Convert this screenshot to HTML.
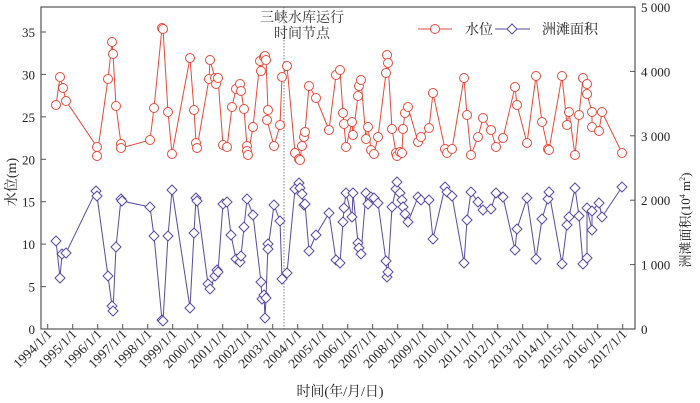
<!DOCTYPE html>
<html><head><meta charset="utf-8"><style>
body{margin:0;background:#fff}
svg{display:block;font-family:"Liberation Serif","Noto Serif CJK SC",serif}
</style></head><body>
<svg width="700" height="403" viewBox="0 0 700 403" xmlns="http://www.w3.org/2000/svg">
<rect x="41" y="7" width="594" height="322" fill="none" stroke="#555" stroke-width="1.2"/>
<line x1="284" y1="7" x2="284" y2="329" stroke="#555" stroke-width="0.8" stroke-dasharray="1.5,1.5"/>
<g id="ticks" stroke="#555" stroke-width="1"></g>
<g font-size="13" fill="#222" id="labs"></g>
<text x="302" y="22" font-size="14" text-anchor="middle" fill="#333">三峡水库运行</text>
<text x="302" y="38" font-size="14" text-anchor="middle" fill="#333">时间节点</text>
<text transform="translate(16,182) rotate(-90)" font-size="14" text-anchor="middle" fill="#222">水位(m)</text>
<text transform="translate(690,220) rotate(-90)" font-size="13" text-anchor="middle" fill="#222">洲滩面积(10<tspan font-size="8" dy="-5">4</tspan><tspan dy="5"> m</tspan><tspan font-size="8" dy="-5">2</tspan><tspan dy="5">)</tspan></text>
<text x="340" y="396" font-size="14" text-anchor="middle" fill="#222">时间(年/月/日)</text>
<g id="series"></g>
<line x1="418" y1="29" x2="452" y2="29" stroke="#e8493a"/><circle cx="435" cy="29" r="4.5" fill="#fff" stroke="#e8493a"/>
<text x="465" y="34" font-size="14" fill="#222">水位</text>
<line x1="495" y1="29" x2="530" y2="29" stroke="#5b4a9e"/><path d="M512 24 L517 29 L512 34 L507 29Z" fill="#fff" stroke="#5b4a9e"/>
<text x="542" y="34" font-size="14" fill="#222">洲滩面积</text>
</svg>
<script>
const NS="http://www.w3.org/2000/svg";
function el(p,t,a,txt){const e=document.createElementNS(NS,t);for(const k in a)e.setAttribute(k,a[k]);if(txt!==undefined)e.textContent=txt;document.getElementById(p).appendChild(e);return e;}
const L=[[0,329],[5,286.6],[10,244.1],[15,201.7],[20,159.3],[25,116.8],[30,74.4],[35,32]];
L.forEach(([v,y])=>{if(v>0)el("ticks","line",{x1:41,y1:y,x2:46,y2:y});el("labs","text",{x:35,y:y+5,"text-anchor":"end"},v);});
[0,1000,2000,3000,4000,5000].forEach((v,i)=>{const y=329-i*64.4;if(i>0&&i<5)el("ticks","line",{x1:630,y1:y,x2:635,y2:y});el("labs","text",{x:641,y:y+5},v==0?"0":(v/1000)+" 000");});
for(let i=0;i<24;i++){const x=47.7+i*25;el("ticks","line",{x1:x,y1:329,x2:x,y2:324});el("labs","text",{transform:`translate(${x+5},335) rotate(-45)`,"text-anchor":"end","font-size":"13.5"},(1994+i)+"/1/1");}
const R=[[56,105],[60,77],[63,88],[66,101],[97,147],[97,156],[108,79],[112,42],[113,54],[116,106],[121,144],[121,148],[150,140],[154,108],[162,28],[163,29],[168,112],[172,154],[190,58],[194,110],[196,143],[197,148],[209,79],[210,60],[215,78],[216,84],[218,78],[223,145],[227,147],[232,107],[236,89],[240,84],[241,91],[244,109],[247,146],[247,151],[248,155],[253,127],[260,61],[261,71],[264,57],[265,56],[266,60],[268,110],[267,120],[274,146],[280,125],[282,77],[287,66],[295,153],[299,159],[300,160],[302,146],[304,137],[305,132],[309,86],[316,98],[329,130],[336,75],[340,70],[343,113],[344,124],[346,147],[352,122],[353,135],[358,96],[359,86],[361,80],[366,139],[368,127],[371,150],[374,154],[378,137],[386,73],[387,55],[388,63],[392,129],[396,153],[397,156],[400,152],[402,153],[403,129],[405,113],[408,107],[418,142],[421,137],[429,128],[433,93],[445,149],[447,153],[452,149],[464,78],[467,115],[471,155],[478,137],[483,118],[491,130],[496,147],[503,138],[515,87],[517,105],[527,143],[536,76],[542,122],[548,149],[549,150],[562,76],[567,125],[569,112],[575,155],[579,115],[583,78],[587,84],[587,94],[592,112],[592,127],[599,131],[602,112],[622,153]];
const B=[[56,241],[60,278],[62,254],[66,253],[96,191],[97,196],[108,276],[112,306],[113,311],[116,247],[121,199],[122,201],[150,207],[154,236],[162,320],[163,321],[168,236],[172,190],[190,308],[194,233],[196,198],[197,201],[208,284],[210,289],[215,276],[217,270],[218,272],[223,204],[227,202],[231,235],[236,259],[240,262],[241,256],[244,227],[247,199],[253,215],[261,282],[262,299],[264,295],[265,318],[266,298],[268,244],[268,249],[274,205],[280,221],[282,279],[287,273],[295,189],[299,183],[300,188],[302,194],[304,205],[305,204],[309,251],[316,235],[329,213],[336,260],[340,263],[343,222],[344,208],[346,193],[352,217],[353,193],[358,243],[359,248],[361,254],[366,193],[368,204],[371,197],[374,198],[378,203],[386,261],[387,277],[388,272],[392,207],[396,189],[397,182],[400,193],[402,200],[403,207],[405,214],[408,222],[418,197],[421,200],[429,200],[433,239],[445,187],[447,192],[452,196],[464,263],[467,220],[471,192],[478,202],[483,210],[491,209],[496,193],[503,197],[515,250],[517,229],[527,198],[536,259],[542,219],[548,199],[549,192],[562,264],[567,225],[569,217],[575,188],[579,216],[583,264],[587,258],[587,208],[592,230],[592,211],[599,203],[602,217],[622,187]];
el("series","polyline",{points:R.map(p=>p.join(",")).join(" "),fill:"none",stroke:"#e8493a","stroke-width":1});
el("series","polyline",{points:B.map(p=>p.join(",")).join(" "),fill:"none",stroke:"#5b4a9e","stroke-width":1});
R.forEach(([x,y])=>el("series","circle",{cx:x,cy:y,r:4.5,fill:"#fff",stroke:"#e8493a","stroke-width":1}));
B.forEach(([x,y])=>el("series","path",{d:`M${x} ${y-5}L${x+5} ${y}L${x} ${y+5}L${x-5} ${y}Z`,fill:"#fff",stroke:"#5b4a9e","stroke-width":1}));
</script>
</body></html>
